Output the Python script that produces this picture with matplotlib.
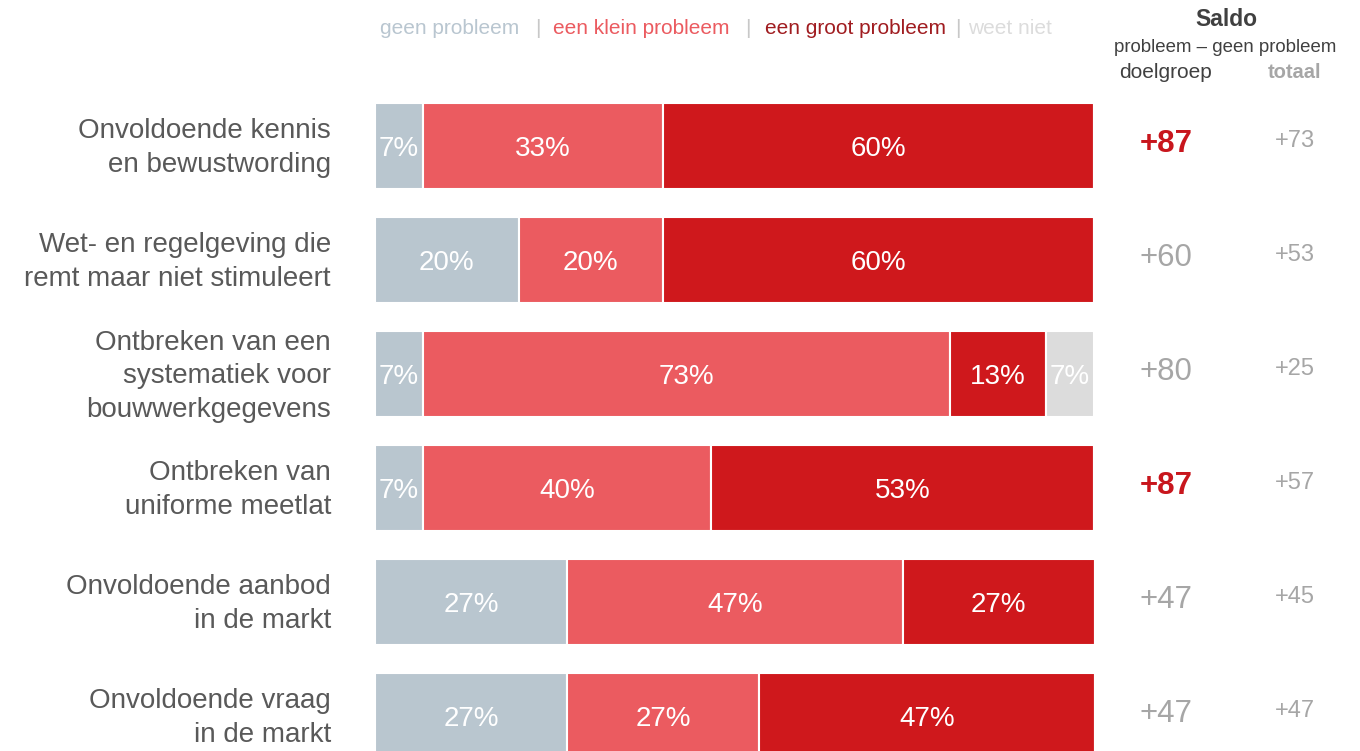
import numpy as np
import matplotlib
matplotlib.use("Agg")
import matplotlib.pyplot as plt

plt.rcParams['font.family'] = ['Liberation Sans', 'DejaVu Sans']

# data (n=15, dus stappen van 6,7%)
labels = [
    "Onvoldoende kennis\nen bewustwording",
    "Wet- en regelgeving die\nremt maar niet stimuleert",
    "Ontbreken van een\nsystematiek voor\nbouwwerkgegevens",
    "Ontbreken van\nuniforme meetlat",
    "Onvoldoende aanbod\nin de markt",
    "Onvoldoende vraag\nin de markt",
]
geen = [6.7, 20.0, 6.7, 6.7, 26.7, 26.7]
klein = [33.3, 20.0, 73.3, 40.0, 46.7, 26.7]
groot = [60.0, 60.0, 13.3, 53.3, 26.7, 46.7]
weet_niet = [0, 0, 6.7, 0, 0, 0]
saldo_totaal = [73, 53, 25, 57, 45, 47]

categories = ["geen probleem", "een klein probleem", "een groot probleem", "weet niet"]
bar_colors = ["#B9C6CF", "#EB5B60", "#CF181C", "#DCDCDC"]
legend_colors = ["#B9C6D0", "#EB5B60", "#A01C20", "#DCDCDC"]

fig = plt.figure(figsize=(13.6, 7.51), dpi=100)
W, H = 1360, 751
x0, x1 = 375, 1094
ax = fig.add_axes([x0 / W, 0, (x1 - x0) / W, 1])
row0, step = 146, 114
ax.set_xlim(0, 100)
ax.set_ylim((H - row0) / step, -row0 / step)
ax.axis('off')

y = np.arange(len(labels))
series = [geen, klein, groot, weet_niet]
left = np.zeros(len(labels))
for vals, col in zip(series, bar_colors):
    vals = np.array(vals)
    ax.barh(y, vals, left=left, height=0.75, color=col, edgecolor='white', linewidth=1.5)
    for i, v in enumerate(vals):
        if v > 0:
            ax.text(left[i] + v / 2, y[i] + 0.025, f"{v:.0f}%", ha='center', va='center',
                    color='white', fontsize=20)
    left += vals

px = 100 / (x1 - x0)  # data-eenheden per pixel
for i, lab in enumerate(labels):
    ax.text((331 - x0) * px, y[i] + 0.02, lab, ha='right', va='center', fontsize=20,
            color='#595959', linespacing=1.38, clip_on=False)
    saldo = round(klein[i] + groot[i] - geen[i])
    hl = saldo >= 85
    ax.text((1166 - x0) * px, y[i] - 0.02, f"+{saldo}", ha='center', va='center',
            fontsize=22.5, color='#C8161D' if hl else '#A6A6A6',
            fontweight='bold' if hl else 'normal', clip_on=False)
    ax.text((1295 - x0) * px, y[i] - 0.04, f"+{saldo_totaal[i]}", ha='center', va='center',
            fontsize=17, color='#A6A6A6', clip_on=False)

# legenda bovenaan
leg_x = [380, 553, 765, 968]
sep_x = [538, 748, 958]
for xx, cat, col in zip(leg_x, categories, legend_colors):
    fig.text(xx / W, 1 - 29 / H, cat, ha='left', va='center', fontsize=15, color=col)
for xx in sep_x:
    fig.text(xx / W, 1 - 29 / H, "|", ha='center', va='center', fontsize=15, color='#C8C8C8')

# kop saldo
fig.text(1226 / W, 1 - 19 / H, "Saldo", ha='center', va='center', fontsize=16.5,
         fontweight='bold', color='#404040')
fig.text(1225 / W, 1 - 47 / H, "probleem – geen probleem", ha='center', va='center',
         fontsize=13.4, color='#404040')
fig.text(1165 / W, 1 - 72 / H, "doelgroep", ha='center', va='center', fontsize=15,
         color='#404040')
fig.text(1295 / W, 1 - 72 / H, "totaal", ha='center', va='center', fontsize=14.5,
         fontweight='bold', color='#A6A6A6')

fig.savefig("out.png", dpi=100)
